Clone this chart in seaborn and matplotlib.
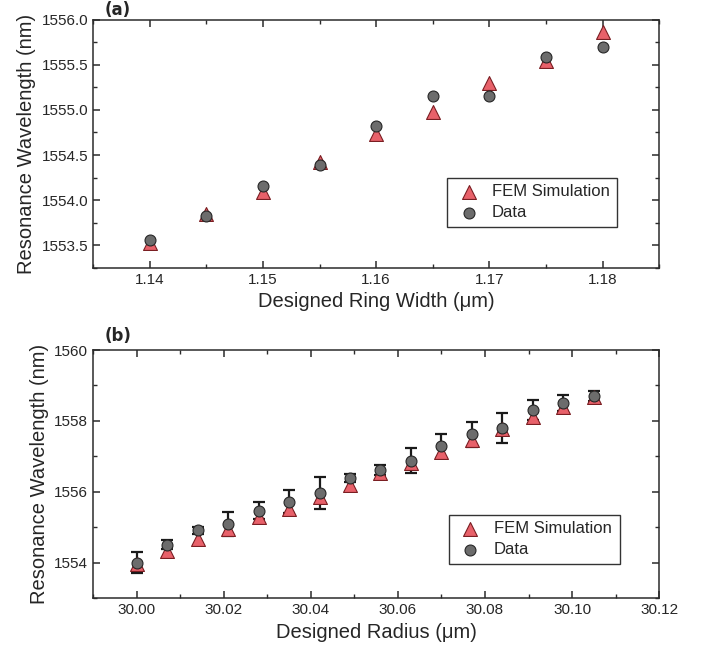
import numpy as np
import pandas as pd
import matplotlib
matplotlib.use("Agg")
import matplotlib.pyplot as plt
from matplotlib.ticker import MultipleLocator, AutoMinorLocator, FormatStrFormatter
import seaborn as sns

# (a) resonance vs ring width
width_um = [1.140, 1.145, 1.150, 1.155, 1.160, 1.165, 1.170, 1.175, 1.180]
width_fem = [1553.52, 1553.85, 1554.09, 1554.42, 1554.73, 1554.98, 1555.30, 1555.54, 1555.86]
width_data = [1553.56, 1553.82, 1554.16, 1554.39, 1554.82, 1555.16, 1555.15, 1555.59, 1555.70]

# (b) resonance vs radius
radius_um = [30.000, 30.007, 30.014, 30.021, 30.028, 30.035, 30.042, 30.049,
             30.056, 30.063, 30.070, 30.077, 30.084, 30.091, 30.098, 30.105]
radius_fem = [1553.97, 1554.34, 1554.67, 1554.96, 1555.29, 1555.52, 1555.84, 1556.20,
              1556.53, 1556.81, 1557.12, 1557.46, 1557.77, 1558.12, 1558.38, 1558.67]
radius_data = [1554.00, 1554.51, 1554.91, 1555.08, 1555.46, 1555.72, 1555.97, 1556.39,
               1556.62, 1556.88, 1557.28, 1557.62, 1557.81, 1558.31, 1558.50, 1558.70]
radius_err = [0.29, 0.12, 0.10, 0.34, 0.24, 0.33, 0.45, 0.10,
              0.14, 0.36, 0.34, 0.36, 0.42, 0.28, 0.22, 0.15]

sns.set_style("ticks")
plt.rcParams['font.family'] = ['Liberation Sans', 'DejaVu Sans']

red = '#E8616A'
red_edge = '#7A1E22'
grey = '#6C6C6C'
grey_edge = '#262626'

fig = plt.figure(figsize=(7.05, 6.58), dpi=100)
ax1 = fig.add_axes([0.132, 0.593, 0.803, 0.377])
ax2 = fig.add_axes([0.132, 0.091, 0.803, 0.377])


def style_axis(ax):
    for sp in ax.spines.values():
        sp.set_color('#2b2b2b')
        sp.set_linewidth(1.1)
    ax.xaxis.set_minor_locator(AutoMinorLocator(2))
    ax.yaxis.set_minor_locator(AutoMinorLocator(2))
    ax.tick_params(which='both', direction='in', top=True, right=True,
                   color='#2b2b2b', labelsize=11)
    ax.tick_params(which='major', length=5, width=1.1)
    ax.tick_params(which='minor', length=3, width=1.0)
    ax.set_ylabel('Resonance Wavelength (nm)', fontsize=14.5)


def draw(ax, x, fem, data):
    df_fem = pd.DataFrame({'x': x, 'y': fem})
    df_dat = pd.DataFrame({'x': x, 'y': data})
    sns.scatterplot(data=df_fem, x='x', y='y', ax=ax, marker='^', s=100,
                    color=red, edgecolor=red_edge, linewidth=0.8,
                    label='FEM Simulation', zorder=3)
    sns.scatterplot(data=df_dat, x='x', y='y', ax=ax, marker='o', s=62,
                    color=grey, edgecolor=grey_edge, linewidth=0.8,
                    label='Data', zorder=4)


def add_legend(ax, box):
    ax.legend(loc='lower left', bbox_to_anchor=box, mode='expand',
              borderaxespad=0, fontsize=12, frameon=True, fancybox=False,
              edgecolor='#333333', framealpha=1, borderpad=0.4,
              handletextpad=0.5, handlelength=1.8, labelspacing=0.35)


# panel (a)
draw(ax1, width_um, width_fem, width_data)
ax1.set_xlim(1.135, 1.185)
ax1.set_ylim(1553.25, 1556.0)
ax1.xaxis.set_major_locator(MultipleLocator(0.01))
ax1.yaxis.set_major_locator(MultipleLocator(0.5))
ax1.xaxis.set_major_formatter(FormatStrFormatter('%.2f'))
ax1.yaxis.set_major_formatter(FormatStrFormatter('%.1f'))
style_axis(ax1)
ax1.set_xlabel('Designed Ring Width (μm)', fontsize=14.5)
add_legend(ax1, (0.625, 0.165, 0.301, 0.182))

# panel (b)
ax2.errorbar(radius_um, radius_data, yerr=radius_err, fmt='none',
             ecolor='#1a1a1a', elinewidth=1.6, capsize=4, capthick=1.6, zorder=2)
draw(ax2, radius_um, radius_fem, radius_data)
ax2.set_xlim(29.99, 30.12)
ax2.set_ylim(1553, 1560)
ax2.xaxis.set_major_locator(MultipleLocator(0.02))
ax2.yaxis.set_major_locator(MultipleLocator(2))
ax2.xaxis.set_major_formatter(FormatStrFormatter('%.2f'))
style_axis(ax2)
ax2.set_xlabel('Designed Radius (μm)', fontsize=14.5)
add_legend(ax2, (0.628, 0.138, 0.302, 0.181))

fig.text(0.149, 0.998, '(a)', fontsize=12, fontweight='bold', va='top',
         family=['DejaVu Sans'])
fig.text(0.148, 0.476, '(b)', fontsize=12, fontweight='bold', va='bottom',
         family=['DejaVu Sans'])

fig.savefig('out.png', dpi=100)
